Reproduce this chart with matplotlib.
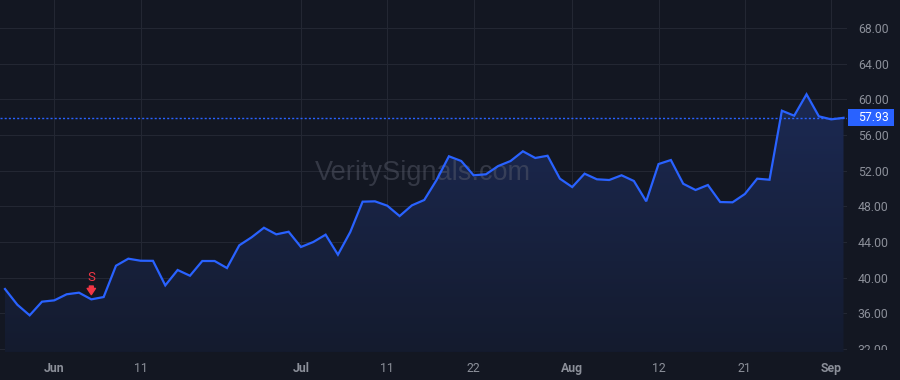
"""
Dark price chart with area fill, last-price marker and a sell signal.
"""

import matplotlib
matplotlib.use("Agg")
import matplotlib.pyplot as plt
import numpy as np
from matplotlib.patches import Polygon, Rectangle
from matplotlib.transforms import Bbox, TransformedBbox, blended_transform_factory

# daily closes, one per trading bar
CLOSES = [
    38.74, 36.98, 35.79, 37.32, 37.47, 38.15, 38.33, 37.58, 37.84, 41.35,
    42.14, 41.91, 41.90, 39.15, 40.87, 40.23, 41.88, 41.88, 41.09, 43.64,
    44.54, 45.61, 44.87, 45.16, 43.45, 44.01, 44.83, 42.59, 45.13, 48.53,
    48.57, 48.08, 46.92, 48.12, 48.72, 50.96, 53.62, 53.09, 51.49, 51.60,
    52.53, 53.09, 54.18, 53.43, 53.68, 51.11, 50.17, 51.67, 51.04, 50.96,
    51.49, 50.85, 48.57, 52.75, 53.20, 50.54, 49.84, 50.40, 48.49, 48.46,
    49.39, 51.11, 50.99, 58.73, 58.17, 60.57, 58.10, 57.76, 57.93,
]
LAST_PRICE = 57.93

X_TICK_BARS = [4, 11, 24, 31, 38, 46, 53, 60, 67]
X_TICK_LABELS = ["Jun", "11", "Jul", "11", "22", "Aug", "12", "21", "Sep"]
MONTH_LABELS = {"Jun", "Jul", "Aug", "Sep"}
Y_TICKS = [32, 36, 40, 44, 48, 52, 56, 60, 64, 68]

SIGNAL_BAR = 7
SIGNAL_TEXT = "S"
WATERMARK = "VeritySignals.com"

BG = "#131722"
GRID = "#232733"
TEXT = "#8b8f99"
LINE = "#2962ff"
SELL = "#f23645"

plt.rcParams["font.family"] = ["Roboto", "DejaVu Sans"]

fig = plt.figure(figsize=(9, 3.8), dpi=100, facecolor=BG)
ax = fig.add_axes([0, 0.0737, 0.9408, 0.9263], facecolor=BG)

x = np.arange(len(CLOSES))
y = np.array(CLOSES)

ax.set_xlim(-0.405, 68.26)
ax.set_ylim(31.68, 71.14)

# gradient fill under the line
poly = Polygon(np.column_stack([np.r_[x[0], x, x[-1]], np.r_[31.68, y, 31.68]]),
               closed=True, facecolor="none", edgecolor="none")
ax.add_patch(poly)
grad = np.linspace(0, 1, 256).reshape(-1, 1)
cmap = matplotlib.colors.LinearSegmentedColormap.from_list("fill", ["#141b2e", "#1c2a55"])
img = ax.imshow(grad, cmap=cmap, aspect="auto", origin="lower",
                extent=[x[0], x[-1], 31.68, 62], zorder=1)
img.set_clip_path(poly)

ax.plot(x, y, color=LINE, linewidth=1.6, zorder=3, solid_joinstyle="miter")

# last price line and tag
ax.axhline(LAST_PRICE, color=LINE, linewidth=1, linestyle=(0, (1.5, 1.5)), zorder=2)
tr = blended_transform_factory(ax.transAxes, ax.transData)
tag_h = 17 / 8.92  # tag height in price units (17 px)
ax.add_patch(Rectangle((1.0015, LAST_PRICE - tag_h / 2), 0.0543, tag_h, transform=tr,
                       facecolor=LINE, edgecolor="none", clip_on=False, zorder=5))
ax.text(1.013, LAST_PRICE, f"{LAST_PRICE:.2f}", transform=tr, ha="left", va="center",
        color="white", fontsize=8.8, clip_on=False, zorder=6)

# sell signal
sy = CLOSES[SIGNAL_BAR]
ax.annotate("", xy=(SIGNAL_BAR, sy), xytext=(0, 9.6), textcoords="offset points",
            arrowprops=dict(arrowstyle="simple,head_width=0.6,head_length=0.45,tail_width=0.28",
                            color=SELL, shrinkA=0, shrinkB=3.4), zorder=4)
ax.annotate(SIGNAL_TEXT, xy=(SIGNAL_BAR, sy), xytext=(0, 13), textcoords="offset points",
            ha="center", va="baseline", color=SELL, fontsize=9.5, zorder=4)

ax.text(0.5, 0.509, WATERMARK, transform=ax.transAxes, ha="center", va="center",
        fontsize=19.5, color="#5d6170", alpha=0.45, family=["Liberation Sans"], zorder=2)

ax.set_xticks(X_TICK_BARS)
ax.set_xticklabels(X_TICK_LABELS)
for lab in ax.get_xticklabels():
    if lab.get_text() in MONTH_LABELS:
        lab.set_fontweight("bold")
ax.set_yticks(Y_TICKS)
ax.set_yticklabels([f"{v:.2f}" for v in Y_TICKS])
ax.yaxis.tick_right()
ax.tick_params(axis="both", length=0, colors=TEXT, labelsize=8.8)
ax.tick_params(axis="x", pad=7.5)
ax.tick_params(axis="y", pad=8)
ax.grid(True, color=GRID, linewidth=0.8)
ax.set_axisbelow(True)
for s in ax.spines.values():
    s.set_visible(False)

# the lowest price label is cut by the time scale
clip = TransformedBbox(Bbox([[0, 30 / 380], [1, 1]]), fig.transFigure)
for tick in ax.yaxis.get_major_ticks():
    for lab in (tick.label1, tick.label2):
        lab.set_clip_box(clip)
        lab.set_clip_on(True)

fig.savefig("out.png", dpi=100, facecolor=BG)
